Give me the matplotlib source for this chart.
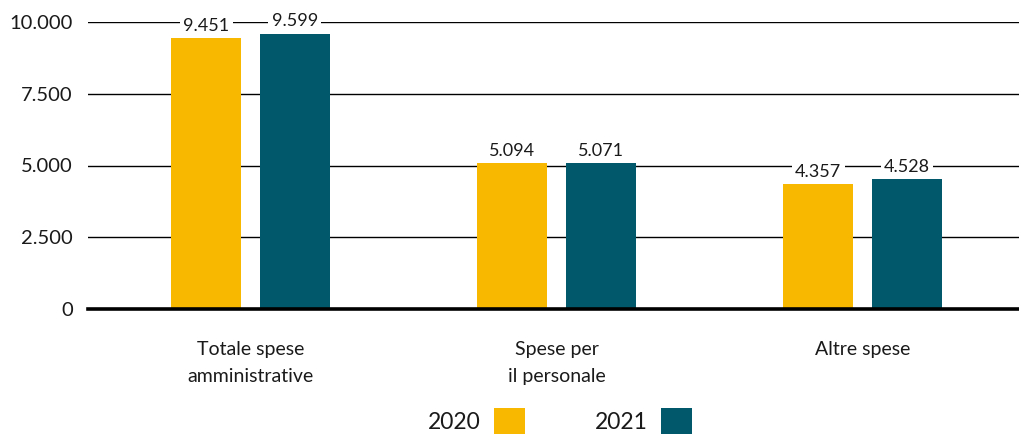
import matplotlib
matplotlib.use("Agg")
import matplotlib.pyplot as plt
import numpy as np

categories = ["Totale spese\namministrative", "Spese per\nil personale", "Altre spese"]
values_2020 = [9451, 5094, 4357]
values_2021 = [9599, 5071, 4528]
series_names = ["2020", "2021"]
yticks = [0, 2500, 5000, 7500, 10000]
ytick_labels = ["0", "2.500", "5.000", "7.500", "10.000"]

c2020 = "#F9B800"
c2021 = "#02586B"

plt.rcParams['font.family'] = ['Lato', 'DejaVu Sans']

fig = plt.figure(figsize=(10.19, 4.34), dpi=100)
ax = fig.add_axes([88/1019, 1-309/434, 931/1019, (309-22)/434])

x = np.arange(len(categories))
w = 0.229
off = 0.145
b1 = ax.bar(x - off, values_2020, w, color=c2020, label=series_names[0], zorder=3)
b2 = ax.bar(x + off, values_2021, w, color=c2021, label=series_names[1], zorder=3)

def fmt(v):
    return f"{v:,.0f}".replace(",", ".")

for bars, vals in ((b1, values_2020), (b2, values_2021)):
    ax.bar_label(bars, labels=[fmt(v) for v in vals], padding=3, fontsize=13,
                 color="#1a1a1a", zorder=4,
                 bbox=dict(facecolor="white", edgecolor="none", pad=2.5))

ax.set_xlim(-0.531, 2.511)
ax.set_ylim(0, 10000)
ax.set_yticks(yticks)
ax.set_yticklabels(ytick_labels, fontsize=14.5, color="#1a1a1a")
ax.set_xticks(x)
ax.set_xticklabels(categories, fontsize=14, color="#1a1a1a", linespacing=1.7)
ax.tick_params(axis='both', length=0)
ax.tick_params(axis='y', pad=11)
ax.tick_params(axis='x', pad=23)

for t in yticks[1:]:
    ax.axhline(t, color="black", lw=1.0, zorder=1)
ax.axhline(0, color="black", lw=2.6, zorder=5, clip_on=False)

for s in ax.spines.values():
    s.set_visible(False)

for t in ax.texts:
    t.set_clip_on(False)

leg = fig.legend(handles=[b1, b2], labels=series_names, loc='lower center',
                 bbox_to_anchor=(560/1019, -0.05), ncol=2, frameon=False,
                 markerfirst=False, fontsize=16.5, handlelength=1.35, handleheight=1.45,
                 handletextpad=0.55, columnspacing=3.08, labelcolor="#1a1a1a")

fig.savefig("out.png", dpi=100, facecolor="white")
